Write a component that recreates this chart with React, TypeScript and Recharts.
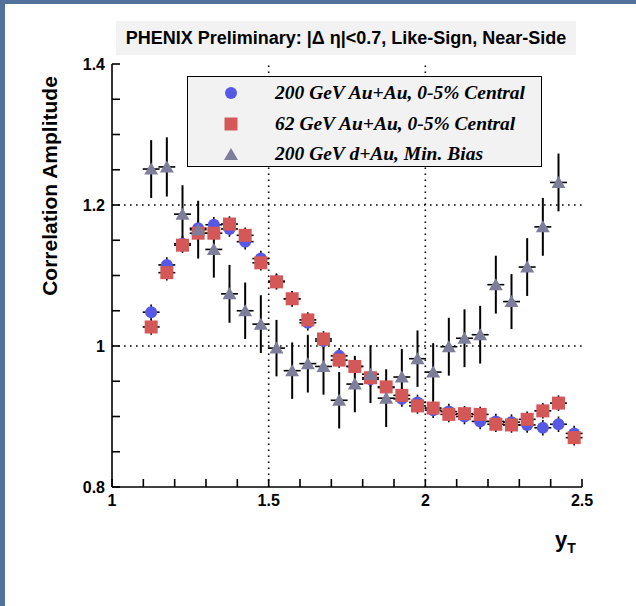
import React from 'react';
import { ScatterChart, Scatter, XAxis, YAxis, ErrorBar, ReferenceLine } from 'recharts';

const X_VALUES = [1.125, 1.175, 1.225, 1.275, 1.325, 1.375, 1.425, 1.475, 1.525, 1.575, 1.625, 1.675, 1.725, 1.775, 1.825, 1.875, 1.925, 1.975, 2.025, 2.075, 2.125, 2.175, 2.225, 2.275, 2.325, 2.375, 2.425, 2.475];
const AUAU200 = [1.048, 1.115, 1.145, 1.167, 1.172, 1.166, 1.148, 1.124, 1.092, 1.067, 1.033, 1.007, 0.986, 0.971, 0.953, 0.941, 0.925, 0.920, 0.909, 0.907, 0.900, 0.893, 0.893, 0.892, 0.888, 0.884, 0.889, 0.876];
const AUAU62 = [1.027, 1.104, 1.143, 1.160, 1.160, 1.173, 1.157, 1.118, 1.091, 1.067, 1.037, 1.010, 0.980, 0.971, 0.955, 0.942, 0.930, 0.915, 0.912, 0.903, 0.904, 0.903, 0.889, 0.888, 0.896, 0.908, 0.919, 0.870];
const DAU200 = [1.251, 1.254, 1.187, 1.165, 1.137, 1.074, 1.050, 1.031, 0.997, 0.965, 0.975, 0.971, 0.923, 0.946, 0.960, 0.926, 0.956, 0.982, 0.963, 0.999, 1.011, 1.016, 1.087, 1.063, 1.112, 1.169, 1.232];
const DAU200_ERR = [0.041, 0.042, 0.041, 0.041, 0.040, 0.041, 0.040, 0.041, 0.040, 0.040, 0.041, 0.040, 0.040, 0.040, 0.041, 0.041, 0.040, 0.040, 0.041, 0.041, 0.041, 0.041, 0.041, 0.039, 0.041, 0.041, 0.041];
const AUAU_ERR = [0.011, 0.011, 0.011, 0.011, 0.011, 0.011, 0.011, 0.011, 0.011, 0.011, 0.011, 0.011, 0.011, 0.011, 0.011, 0.011, 0.011, 0.011, 0.011, 0.011, 0.011, 0.011, 0.011, 0.011, 0.011, 0.011, 0.011, 0.011];
const X_HALF_BIN = [0.027];

const X_TICKS = [1, 1.1, 1.2, 1.3, 1.4, 1.5, 1.6, 1.7, 1.8, 1.9, 2, 2.1, 2.2, 2.3, 2.4, 2.5];
const X_LABELS = [1, 1.5, 2, 2.5];
const Y_TICKS = [0.8, 0.85, 0.9, 0.95, 1, 1.05, 1.1, 1.15, 1.2, 1.25, 1.3, 1.35, 1.4];
const Y_LABELS = [0.8, 1, 1.2, 1.4];
const X_GRID = [1.5, 2];
const Y_GRID = [1, 1.2];
const SERIES_NAMES = ['200 GeV Au+Au, 0-5% Central', '62 GeV Au+Au, 0-5% Central', '200 GeV d+Au, Min. Bias'];
const TITLE = 'PHENIX Preliminary: |\u0394 \u03b7|<0.7, Like-Sign, Near-Side';

const BLUE = '#5858e6';
const RED = '#d45858';
const GRAY = '#7e7e9c';

const blueData = X_VALUES.map((x, i) => ({ x, y: AUAU200[i], ex: X_HALF_BIN[0], ey: AUAU_ERR[i] }));
const redData = X_VALUES.map((x, i) => ({ x, y: AUAU62[i], ex: X_HALF_BIN[0], ey: AUAU_ERR[i] }));
const grayData = DAU200.map((y, i) => ({ x: X_VALUES[i], y, ex: X_HALF_BIN[0], ey: DAU200_ERR[i] }));

const CircleShape = (p: any) => <circle cx={p.cx} cy={p.cy} r={6} fill={BLUE} />;
const SquareShape = (p: any) => <rect x={p.cx - 6.5} y={p.cy - 6.5} width={13} height={13} fill={RED} />;
const TriShape = (p: any) => (
  <polygon points={`${p.cx},${p.cy - 6.5} ${p.cx - 7},${p.cy + 5.5} ${p.cx + 7},${p.cy + 5.5}`} fill={GRAY} />
);

const near = (v: number, list: number[]) => list.some((l) => Math.abs(l - v) < 1e-6);
const fmt = (list: number[]) => (v: number) => (near(v, list) ? String(v) : '');

const SANS = '"Liberation Sans", Arial, Helvetica, sans-serif';
const SERIF = '"Liberation Serif", "Times New Roman", serif';
const tickFont = { fontFamily: SANS, fontSize: 16, fontWeight: 700, fill: '#000' };
const axisStroke = { stroke: '#000', strokeWidth: 1.6 };

export default function App() {
  return (
    <div style={{ position: 'relative', width: 636, height: 606, background: '#fff', overflow: 'hidden', fontFamily: SANS }}>
      <style>{'body{margin:0}'}</style>
      <div style={{ position: 'absolute', left: 0, top: 0, width: 636, height: 4, background: '#52729c' }} />
      <div style={{ position: 'absolute', left: 0, top: 0, width: 5, height: 606, background: '#52729c' }} />
      <div
        style={{
          position: 'absolute', left: 116, top: 21, width: 460, height: 34, background: '#f2f2f2',
          textAlign: 'center', lineHeight: '34px', fontSize: 18, fontWeight: 700, color: '#000', whiteSpace: 'nowrap',
        }}
      >
        {TITLE}
      </div>
      <ScatterChart width={636} height={606} margin={{ top: 64, right: 54, bottom: 89, left: 52 }} style={{ position: 'absolute', left: 0, top: 0 }}>
        <XAxis
          xAxisId="b" type="number" dataKey="x" domain={[1, 2.5]} allowDataOverflow ticks={X_TICKS} interval={0}
          tickFormatter={fmt(X_LABELS)} tickSize={-8} tickMargin={16} height={30}
          axisLine={axisStroke} tickLine={axisStroke} tick={tickFont}
        />
        <XAxis
          xAxisId="t" orientation="top" type="number" dataKey="x" domain={[1, 2.5]} allowDataOverflow ticks={X_TICKS} interval={0}
          tickFormatter={() => ''} tickSize={-8} height={0}
          axisLine={axisStroke} tickLine={axisStroke}
        />
        <YAxis
          yAxisId="l" type="number" dataKey="y" domain={[0.8, 1.4]} allowDataOverflow ticks={Y_TICKS} interval={0}
          tickFormatter={fmt(Y_LABELS)} tickSize={-8} tickMargin={15} width={60}
          axisLine={axisStroke} tickLine={axisStroke} tick={tickFont}
        />
        <YAxis
          yAxisId="r" orientation="right" type="number" dataKey="y" domain={[0.8, 1.4]} allowDataOverflow ticks={Y_TICKS} interval={0}
          tickFormatter={() => ''} tickSize={-8} width={0}
          axisLine={axisStroke} tickLine={axisStroke}
        />
        {X_GRID.map((g) => (
          <ReferenceLine key={'gx' + g} xAxisId="b" yAxisId="l" x={g} stroke="#000" strokeWidth={1.6} strokeDasharray="1.6 4.4" />
        ))}
        {Y_GRID.map((g) => (
          <ReferenceLine key={'gy' + g} xAxisId="b" yAxisId="l" y={g} stroke="#000" strokeWidth={1.6} strokeDasharray="1.6 4.4" />
        ))}
        <Scatter xAxisId="b" yAxisId="l" data={blueData} shape={CircleShape} isAnimationActive={false}>
          <ErrorBar dataKey="ex" direction="x" width={0} stroke="#000" strokeWidth={1.6} isAnimationActive={false} />
          <ErrorBar dataKey="ey" direction="y" width={0} stroke="#000" strokeWidth={1.6} isAnimationActive={false} />
        </Scatter>
        <Scatter xAxisId="b" yAxisId="l" data={redData} shape={SquareShape} isAnimationActive={false}>
          <ErrorBar dataKey="ex" direction="x" width={0} stroke="#000" strokeWidth={1.6} isAnimationActive={false} />
          <ErrorBar dataKey="ey" direction="y" width={0} stroke="#000" strokeWidth={1.6} isAnimationActive={false} />
        </Scatter>
        <Scatter xAxisId="b" yAxisId="l" data={grayData} shape={TriShape} isAnimationActive={false}>
          <ErrorBar dataKey="ex" direction="x" width={0} stroke="#000" strokeWidth={1.6} isAnimationActive={false} />
          <ErrorBar dataKey="ey" direction="y" width={0} stroke="#000" strokeWidth={2} isAnimationActive={false} />
        </Scatter>
      </ScatterChart>
      <div
        style={{
          position: 'absolute', left: 187, top: 76, width: 355, height: 91, background: '#f2f2f2',
          border: '1.6px solid #000', boxSizing: 'border-box',
        }}
      >
        {SERIES_NAMES.map((name, i) => (
          <div key={name} style={{ position: 'absolute', left: 0, top: 2 + i * 30.5, height: 28, width: 350 }}>
            <svg width={30} height={28} style={{ position: 'absolute', left: 28, top: 0 }}>
              {i === 0 && <circle cx={15} cy={14} r={6} fill={BLUE} />}
              {i === 1 && <rect x={8.5} y={7.5} width={13} height={13} fill={RED} />}
              {i === 2 && <polygon points="15,8 8,20 22,20" fill={GRAY} />}
            </svg>
            <span
              style={{
                position: 'absolute', left: 87, top: 0, lineHeight: '28px', fontFamily: SERIF, fontStyle: 'italic',
                fontWeight: 700, fontSize: 19.5, whiteSpace: 'nowrap', color: '#000',
              }}
            >
              {name}
            </span>
          </div>
        ))}
      </div>
      <div
        style={{
          position: 'absolute', left: 50, top: 186, transform: 'translate(-50%, -50%) rotate(-90deg)',
          fontSize: 21, fontWeight: 700, whiteSpace: 'nowrap', color: '#000',
        }}
      >
        Correlation Amplitude
      </div>
      <div style={{ position: 'absolute', left: 555, top: 527, fontSize: 22, fontWeight: 700, color: '#000' }}>
        y<span style={{ fontSize: 14, position: 'relative', top: 6 }}>T</span>
      </div>
    </div>
  );
}
